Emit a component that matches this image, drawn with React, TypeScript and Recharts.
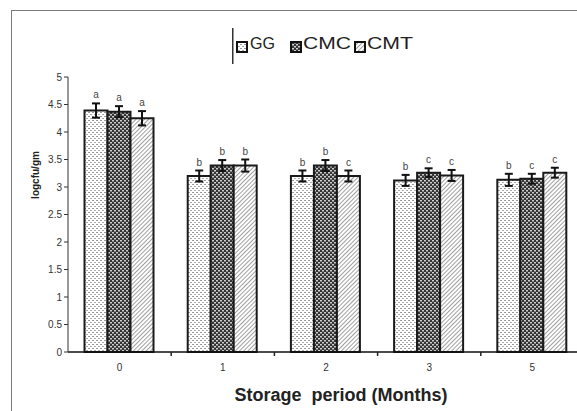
import { BarChart, Bar, XAxis, YAxis, ErrorBar, LabelList, Legend } from "recharts";

const periods = ["0", "1", "2", "3", "5"];

const gg = [4.39, 3.2, 3.2, 3.12, 3.13];
const cmc = [4.37, 3.39, 3.39, 3.26, 3.15];
const cmt = [4.25, 3.39, 3.2, 3.21, 3.26];

const ggErr = [0.13, 0.1, 0.1, 0.1, 0.11];
const cmcErr = [0.1, 0.1, 0.1, 0.08, 0.09];
const cmtErr = [0.13, 0.11, 0.1, 0.1, 0.09];

const ggLetters = ["a", "b", "b", "b", "b"];
const cmcLetters = ["a", "b", "b", "c", "c"];
const cmtLetters = ["a", "b", "c", "c", "c"];

const yTicks = [0, 0.5, 1, 1.5, 2, 2.5, 3, 3.5, 4, 4.5, 5];

const data = periods.map((p, i) => ({
  period: p,
  GG: gg[i],
  CMC: cmc[i],
  CMT: cmt[i],
  ggErr: ggErr[i],
  cmcErr: cmcErr[i],
  cmtErr: cmtErr[i],
  ggLetter: ggLetters[i],
  cmcLetter: cmcLetters[i],
  cmtLetter: cmtLetters[i],
}));

const FONT = "'Liberation Sans', Arial, sans-serif";

const series = [
  { key: "GG", fill: "url(#pGG)", err: "ggErr", letter: "ggLetter", errs: ggErr, vals: gg },
  { key: "CMC", fill: "url(#pCMC)", err: "cmcErr", letter: "cmcLetter", errs: cmcErr, vals: cmc },
  { key: "CMT", fill: "url(#pCMT)", err: "cmtErr", letter: "cmtLetter", errs: cmtErr, vals: cmt },
];

// legend item layout (icon x, text x, text length) - the source is stretched wide
const legendItems = [
  { icon: 4, text: 18, len: 25 },
  { icon: 58, text: 71, len: 48 },
  { icon: 122, text: 135, len: 46 },
];

// letter sits just above the error bar cap
function letterLabel(vals: number[], errs: number[]) {
  return (props: any) => {
    const { x, y, width, height, value, index } = props;
    const perUnit = height / vals[index];
    const top = y - errs[index] * perUnit;
    return (
      <text
        x={x + width / 2}
        y={top - 5}
        textAnchor="middle"
        fontSize={10}
        fill="#444"
        fontFamily={FONT}
      >
        {value}
      </text>
    );
  };
}

function XTick(props: any) {
  const { x, y, payload } = props;
  const off = payload.offset ?? 0;
  return (
    <g>
      <text x={x} y={y + 11} textAnchor="middle" fontSize={10} fill="#333" fontFamily={FONT}>
        {payload.value}
      </text>
      {payload.index < periods.length - 1 && (
        <line x1={x + off} x2={x + off} y1={y - 8} y2={y - 4} stroke="#222" strokeWidth={1.5} />
      )}
    </g>
  );
}

function renderLegend() {
  return (
    <svg width={200} height={38} style={{ display: "block", overflow: "visible" }}>
      <line x1={0.75} x2={0.75} y1={0} y2={36} stroke="#333" strokeWidth={1.5} />
      {series.map((s, i) => {
        const it = legendItems[i];
        return (
          <g key={s.key}>
            <rect x={it.icon + 1} y={14} width={10} height={10} fill={s.fill} stroke="#111" strokeWidth={2} />
            <text
              x={it.text}
              y={21}
              fontSize={16}
              fill="#222"
              fontFamily={FONT}
              textLength={it.len}
              lengthAdjust="spacingAndGlyphs"
            >
              {s.key}
            </text>
          </g>
        );
      })}
    </svg>
  );
}

export default function App() {
  return (
    <div
      style={{
        position: "absolute",
        left: 0,
        top: 0,
        width: 577,
        height: 411,
        overflow: "hidden",
        background: "#fff",
      }}
    >
      <div
        style={{
          position: "absolute",
          left: 11,
          top: 10,
          width: 640,
          height: 520,
          border: "1.5px solid #7a7a7a",
        }}
      />
      <BarChart
        width={600}
        height={411}
        data={data}
        margin={{ top: 77, right: 16, bottom: 29, left: 18 }}
        barCategoryGap="16%"
        barGap={0}
        style={{ position: "absolute", left: 0, top: 0 }}
      >
        <defs>
          <pattern id="pGG" width={4} height={4} patternUnits="userSpaceOnUse">
            <rect width={4} height={4} fill="#fff" />
            <rect x={0} y={0} width={2} height={1} fill="#999" />
            <rect x={2} y={2} width={2} height={1} fill="#aaa" />
          </pattern>
          <pattern id="pCMC" width={4} height={4} patternUnits="userSpaceOnUse">
            <rect width={4} height={4} fill="#333" />
            <rect x={0} y={0} width={2} height={1.5} fill="#cfcfcf" />
            <rect x={2} y={2} width={2} height={1.5} fill="#cfcfcf" />
          </pattern>
          <pattern
            id="pCMT"
            width={3}
            height={3}
            patternUnits="userSpaceOnUse"
            patternTransform="rotate(45)"
          >
            <rect width={3} height={3} fill="#fff" />
            <line x1={0} y1={0} x2={0} y2={3} stroke="#777" strokeWidth={1.4} />
          </pattern>
        </defs>
        <XAxis
          dataKey="period"
          tickLine={false}
          axisLine={{ stroke: "#111", strokeWidth: 1.5 }}
          tick={<XTick />}
          interval={0}
        />
        <YAxis
          width={50}
          domain={[0, 5]}
          ticks={yTicks}
          interval={0}
          tickSize={4}
          tickMargin={2}
          axisLine={{ stroke: "#333" }}
          tickLine={{ stroke: "#333" }}
          tick={{ fontSize: 10, fill: "#333", fontFamily: FONT }}
          label={() => (
            <text
              x={35}
              y={175}
              transform="rotate(-90 35 175)"
              textAnchor="middle"
              dominantBaseline="central"
              fontSize={10}
              fontWeight="bold"
              fill="#222"
              fontFamily={FONT}
            >
              logcfu/gm
            </text>
          )}
        />
        <Legend
          content={renderLegend}
          layout="horizontal"
          verticalAlign="middle"
          align="center"
          wrapperStyle={{ top: 28, left: 232, width: "auto" }}
        />
        {series.map((s) => (
          <Bar
            key={s.key}
            dataKey={s.key}
            fill={s.fill}
            stroke="#1a1a1a"
            strokeWidth={2}
            isAnimationActive={false}
          >
            <ErrorBar dataKey={s.err} width={4} strokeWidth={2} stroke="#111" direction="y" />
            <LabelList dataKey={s.letter} content={letterLabel(s.vals, s.errs)} />
          </Bar>
        ))}
      </BarChart>
      <div
        style={{
          position: "absolute",
          left: 341,
          top: 385,
          transform: "translateX(-50%)",
          whiteSpace: "pre",
          fontFamily: FONT,
          fontWeight: "bold",
          fontSize: 18,
          color: "#222",
        }}
      >
        Storage  period (Months)
      </div>
    </div>
  );
}
